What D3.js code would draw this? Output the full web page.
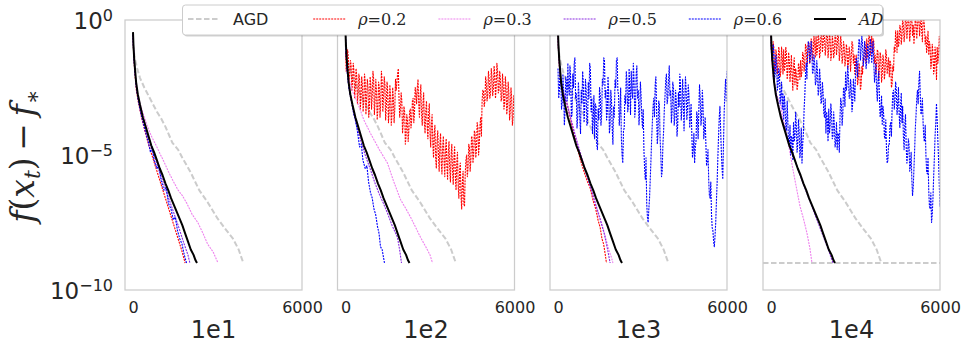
<!DOCTYPE html>
<html><head><meta charset="utf-8">
<script src="https://cdn.jsdelivr.net/npm/d3@7"></script>
<style>body{margin:0;background:#fff;} svg{display:block;}</style>
</head><body><svg id="c" width="966" height="349"></svg>
<script>
// ---------------- DATA (exponents of f(x_t)-f_*, i.e. log10 values) ----------------
const panels = ["1e1", "1e2", "1e3", "1e4"];
const legendLabels = ["AGD", "0.2", "0.3", "0.5", "0.6", "AD"];
const yTicks = [1, 1e-5, 1e-10];
const yTickExponents = ["0", "\u22125", "\u221210"];
const xTicks = [0, 6000];
const floorExponent = -9;     // dashed reference level drawn in panel 1e4
const noisyStep = 50;         // iteration spacing of the noisy (non-converging) series; *_mid arrays sit half a step later

// [iteration, log10 value]
const agd = [[0,-0.9],[60,-1.4],[150,-1.8],[250,-2.15],[400,-2.5],[600,-2.9],[850,-3.4],[1000,-3.65],[1150,-3.95],[1400,-4.55],[1600,-4.8],[1750,-5.1],[2050,-5.65],[2350,-6.3],[2650,-6.75],[3000,-7.35],[3250,-7.7],[3550,-8.1],[3750,-8.5],[3900,-8.95]];
const ad = [[0,-0.45],[15,-0.9],[40,-1.4],[70,-1.8],[110,-2.3],[170,-2.75],[250,-3.15],[350,-3.6],[450,-3.95],[550,-4.3],[650,-4.65],[750,-4.9],[850,-5.2],[950,-5.5],[1050,-5.75],[1150,-6.05],[1250,-6.3],[1350,-6.6],[1450,-6.85],[1550,-7.1],[1650,-7.35],[1750,-7.6],[1850,-7.9],[1950,-8.2],[2050,-8.5],[2150,-8.7],[2220,-8.9],[2272,-9.0]];

const red_1e1 = [[0,-0.55],[20,-1.2],[60,-1.9],[120,-2.6],[200,-3.1],[300,-3.6],[420,-4.1],[550,-4.6],[700,-5.1],[850,-5.6],[1000,-6.1],[1150,-6.6],[1300,-7.1],[1450,-7.6],[1600,-8.1],[1720,-8.5],[1800,-8.8],[1850,-9.0]];
const pink_1e1 = [[0,-0.6],[30,-1.3],[80,-2.0],[160,-2.7],[250,-3.1],[355,-3.45],[500,-3.9],[650,-4.3],[800,-4.6],[958,-4.95],[1100,-5.25],[1250,-5.6],[1420,-5.95],[1600,-6.3],[1750,-6.5],[1917,-6.8],[2100,-7.2],[2300,-7.5],[2485,-7.9],[2650,-8.3],[2850,-8.6],[3018,-9.0]];
const purple_1e1 = [[0,-0.55],[20,-1.1],[60,-1.8],[120,-2.45],[200,-3.0],[300,-3.5],[420,-3.95],[550,-4.4],[700,-4.9],[850,-5.35],[1000,-5.8],[1200,-6.4],[1400,-7.0],[1600,-7.6],[1800,-8.25],[1950,-8.7],[2020,-9.0]];
const blue_1e1 = [[0,-0.55],[20,-1.1],[60,-1.8],[120,-2.5],[200,-3.05],[300,-3.55],[420,-4.05],[550,-4.55],[620,-4.9],[680,-4.7],[750,-5.2],[850,-5.5],[920,-5.4],[1000,-5.95],[1100,-6.3],[1180,-6.2],[1260,-6.8],[1350,-7.0],[1430,-7.4],[1500,-7.3],[1580,-7.8],[1660,-8.1],[1740,-8.3],[1820,-8.7],[1900,-9.0]];

const red_1e2 = [-1.2,-1.6,-1.4,-2.0,-1.7,-2.3,-1.9,-2.5,-2.1,-2.7,
 -2.2,-2.9,-2.4,-3.0,-2.3,-2.9,-2.5,-3.2,-2.4,-2.8,
 -2.2,-3.0,-2.6,-3.3,-2.5,-3.1,-2.3,-2.9,-2.4,-3.2,
 -2.7,-3.4,-2.8,-3.5,-2.9,-3.3,-2.6,-2.0,-2.9,-3.3,
 -3.0,-3.8,-3.4,-4.3,-3.7,-4.1,-3.3,-3.7,-2.9,-3.4,
 -2.7,-2.5,-3.1,-2.8,-3.5,-3.1,-3.8,-3.4,-3.9,-3.5,
 -4.2,-3.8,-4.6,-4.2,-5.1,-4.5,-5.0,-4.6,-5.3,-4.7,
 -5.2,-4.8,-5.4,-4.9,-5.5,-5.0,-5.6,-5.1,-5.8,-5.3,
 -6.1,-5.6,-6.5,-6.0,-6.8,-5.7,-5.0,-5.5,-4.7,-5.2,
 -4.4,-5.0,-4.2,-4.8,-4.0,-4.6,-3.6,-3.0,-2.6,-3.0,
 -2.3,-2.8,-2.2,-2.7,-2.1,-2.6,-2.0,-2.5,-1.9,-2.6,
 -2.2,-2.9,-2.4,-3.1,-2.5,-3.2,-2.7,-3.4,-2.9,-3.6,
 -3.2];
const red_1e2_mid = [-1.9,-1.1,-2.4,-1.5,-2.6,-1.6,-2.9,-1.8,-3.1,-2.0,
 -3.3,-2.1,-3.4,-2.0,-3.5,-2.2,-3.6,-2.1,-3.3,-1.9,
 -3.5,-2.2,-3.7,-2.3,-3.6,-1.9,-3.4,-2.1,-3.7,-2.3,
 -3.8,-2.4,-3.9,-2.5,-3.8,-2.2,-2.3,-1.8,-3.6,-2.7,
 -4.2,-3.2,-4.6,-3.5,-4.5,-3.4,-4.0,-3.0,-3.8,-2.5,
 -3.1,-2.2,-3.6,-2.4,-3.9,-2.7,-4.2,-3.0,-4.4,-3.1,
 -4.7,-3.5,-5.1,-3.9,-5.5,-4.1,-5.6,-4.2,-5.7,-4.3,
 -5.8,-4.4,-5.9,-4.5,-6.0,-4.6,-6.1,-4.7,-6.3,-4.9,
 -6.6,-5.3,-7.0,-5.6,-6.9,-5.2,-5.8,-4.6,-5.6,-4.3,
 -5.3,-4.1,-5.1,-3.8,-5.0,-3.9,-4.3,-2.6,-3.2,-2.1,
 -3.0,-1.9,-2.9,-1.8,-2.8,-1.7,-2.9,-1.6,-2.7,-1.9,
 -3.0,-2.0,-3.3,-2.1,-3.5,-2.3,-3.7,-2.5,-3.9,-2.8,
 -3.8];
const pink_1e2 = [[0,-0.7],[30,-1.4],[100,-2.1],[250,-2.65],[426,-3.05],[650,-3.7],[888,-4.2],[1200,-4.8],[1490,-5.3],[1700,-5.95],[1952,-6.65],[2150,-7.0],[2308,-7.3],[2500,-7.7],[2663,-8.05],[2850,-8.4],[3000,-8.7],[3089,-9.0]];
const purple_1e2 = [[0,-0.6],[20,-1.2],[60,-1.9],[120,-2.5],[200,-3.0],[300,-3.5],[420,-4.0],[550,-4.5],[700,-5.0],[888,-5.55],[1050,-6.05],[1200,-6.45],[1350,-6.8],[1490,-7.15],[1650,-7.6],[1780,-7.9],[1846,-8.05],[1920,-8.5],[1988,-9.0]];
const blue_1e2 = [[0,-0.6],[20,-1.2],[60,-1.9],[120,-2.5],[200,-2.9],[280,-3.4],[350,-3.7],[420,-4.1],[500,-4.7],[560,-4.6],[620,-5.2],[700,-5.5],[760,-5.4],[820,-6.0],[888,-6.4],[950,-6.6],[1010,-7.0],[1070,-7.2],[1136,-7.65],[1190,-7.9],[1243,-8.4],[1300,-8.5],[1384,-9.0]];

const red_1e3 = [[0,-0.55],[20,-1.2],[60,-1.9],[120,-2.4],[200,-2.7],[320,-3.1],[450,-3.7],[560,-4.2],[675,-4.7],[800,-5.2],[950,-5.7],[1050,-6.0],[1136,-6.2],[1250,-6.7],[1340,-7.0],[1420,-7.4],[1500,-7.7],[1560,-8.1],[1620,-8.3],[1680,-8.7],[1720,-9.0]];
const pink_1e3 = [[0,-0.55],[20,-1.2],[60,-1.85],[120,-2.35],[200,-2.7],[320,-3.05],[450,-3.6],[600,-4.2],[750,-4.75],[900,-5.3],[1050,-5.8],[1200,-6.3],[1350,-6.85],[1500,-7.35],[1650,-7.9],[1800,-8.5],[1900,-8.8],[1950,-9.0]];
const purple_1e3 = [[0,-0.55],[20,-1.2],[60,-1.85],[120,-2.4],[200,-2.75],[320,-3.1],[450,-3.65],[600,-4.25],[750,-4.8],[900,-5.35],[1050,-5.85],[1200,-6.35],[1350,-6.9],[1500,-7.4],[1650,-7.95],[1760,-8.5],[1850,-9.0]];
const blue_1e3 = [-1.8,-2.6,-2.2,-3.1,-2.6,-3.4,-2.3,-1.6,-2.8,-2.2,
 -3.5,-2.5,-1.4,-2.7,-3.6,-2.9,-4.2,-3.1,-2.4,-3.3,
 -2.6,-3.8,-2.9,-1.8,-2.9,-3.6,-4.4,-3.2,-4.8,-3.7,
 -2.8,-3.5,-2.4,-1.5,-2.6,-3.4,-2.7,-3.9,-3.0,-4.6,
 -3.6,-2.5,-1.4,-2.8,-3.4,-4.4,-5.3,-4.0,-3.1,-2.3,
 -3.2,-2.6,-1.9,-2.9,-2.2,-3.3,-1.7,-2.6,-3.4,-2.8,
 -4.0,-4.8,-5.9,-6.8,-7.5,-6.6,-5.2,-3.8,-2.9,-2.4,
 -3.3,-4.2,-3.1,-5.0,-5.6,-4.1,-2.8,-2.0,-2.9,-1.7,
 -2.6,-3.4,-2.5,-3.6,-3.0,-3.9,-3.2,-2.4,-3.3,-2.9,
 -3.0,-2.6,-3.2,-2.8,-3.6,-4.2,-4.8,-5.3,-4.5,-3.6,
 -3.3,-2.9,-3.6,-3.2,-4.1,-4.6,-5.2,-5.9,-6.6,-7.2,
 -7.8,-8.4,-7.5,-6.0,-4.3,-3.2,-4.9,-5.9,-3.4,-2.2,
 -1.9];
const blue_1e3_mid = [-2.9,-1.7,-3.3,-2.0,-3.9,-2.1,-3.0,-2.5,-1.7,-3.6,
 -2.0,-1.6,-2.9,-4.0,-2.3,-3.7,-2.6,-1.9,-3.8,-2.2,
 -3.9,-2.3,-1.6,-3.4,-4.2,-2.8,-3.1,-4.6,-3.3,-2.5,
 -3.9,-2.2,-1.4,-2.9,-3.7,-2.1,-4.2,-2.6,-4.0,-3.2,
 -2.2,-1.5,-2.6,-3.9,-2.5,-5.0,-4.1,-2.8,-1.9,-3.4,
 -1.8,-3.5,-2.6,-1.6,-3.6,-2.0,-2.9,-3.9,-2.3,-3.6,
 -3.3,-5.5,-5.1,-7.3,-7.0,-5.9,-4.4,-3.2,-3.6,-2.1,
 -4.6,-3.0,-4.4,-5.8,-4.6,-3.3,-2.2,-3.1,-2.2,-2.8,
 -3.8,-2.3,-3.9,-2.6,-4.3,-2.7,-2.0,-3.7,-2.2,-4.1,
 -2.1,-3.7,-2.4,-4.0,-3.1,-5.1,-4.2,-4.7,-3.4,-4.4,
 -2.4,-3.9,-2.6,-4.4,-3.6,-5.4,-4.8,-6.5,-6.0,-7.7,
 -8.2,-8.0,-6.7,-5.1,-3.6,-4.1,-5.5,-4.6,-2.7,-3.0,
 -2.4];

const red_1e4 = [-0.6,-1.3,-1.0,-1.8,-1.3,
 -1.7,-1.2,-1.9,-1.4,-1.1,-1.7,-1.3,-1.9,-1.5,
 -1.8,-2.1,-1.7,-2.4,-2.0,-2.4,-1.8,
 -1.5,-1.9,-1.3,-1.6,-1.0,-1.4,-0.9,-1.3,-0.8,-1.2,-0.9,
 -0.6,-1.1,-0.7,-1.2,-0.5,-0.9,-0.6,-1.0,-0.5,-1.1,-0.7,-1.3,-0.8,-1.2,-0.6,-1.0,-0.7,-1.2,-0.9,-1.4,-1.0,
 -1.5,-1.1,-1.6,-1.2,-1.4,-0.9,-1.3,-1.6,-1.9,
 -2.2,-1.8,-2.4,-2.0,-1.5,-1.0,
 -0.7,-1.0,-0.6,-0.9,-1.2,-0.8,
 -1.3,-1.6,-1.2,-1.8,-1.4,-2.0,-1.5,-1.9,-1.3,-1.7,-2.1,-1.6,
 -2.4,-1.9,-1.2,-0.7,
 -0.4,-0.8,-0.3,-0.6,-0.2,-0.5,0.0,-0.3,-0.1,-0.4,0.1,-0.2,-0.5,-0.1,-0.3,0.1,-0.2,-0.4,0.0,-0.3,
 -0.6,-0.9,-1.3,-1.0,-1.6,-1.2,-1.8,-1.4,
 -1.0,-1.3,-0.9];
const red_1e4_mid = [-1.5,-0.8,-1.9,-1.1,-2.0,
 -1.0,-2.1,-1.0,-2.0,-1.9,-1.0,-2.2,-1.2,-2.3,
 -1.3,-2.6,-1.4,-1.8,-2.6,-1.6,-2.2,
 -2.1,-1.2,-1.9,-0.9,-1.7,-0.8,-1.6,-0.7,-1.5,-0.6,-1.4,
 -1.3,-0.5,-1.4,-0.4,-1.2,-0.3,-1.3,-0.4,-1.4,-0.5,-1.5,-0.6,-1.4,-0.5,-1.3,-0.4,-1.5,-0.6,-1.6,-0.8,-1.7,
 -0.9,-1.8,-1.0,-1.9,-0.8,-1.6,-2.0,-1.3,-2.4,
 -1.6,-2.6,-1.7,-1.4,-0.8,-1.6,
 -1.4,-0.5,-1.3,-0.6,-0.7,-1.6,
 -2.0,-1.1,-2.2,-1.2,-2.3,-1.3,-2.2,-1.1,-2.0,-1.4,-1.5,-2.5,
 -1.7,-1.0,-0.4,-1.2,
 -1.0,-0.2,-0.9,0.1,-0.8,0.2,-0.7,0.3,-0.8,0.2,-0.6,-0.9,0.2,-0.7,0.3,-0.6,0.2,-0.8,0.1,-0.9,
 -1.2,-0.4,-0.8,-1.8,-0.9,-2.0,-1.0,-2.2,
 -1.6,-0.6,-1.5];
const pink_1e4 = [[0,-0.6],[20,-1.3],[71,-2.1],[150,-2.6],[230,-2.85],[320,-3.05],[450,-3.75],[568,-4.3],[680,-4.95],[781,-5.55],[900,-6.2],[1030,-6.9],[1150,-7.35],[1278,-7.9],[1380,-8.45],[1455,-9.0]];
const purple_1e4 = [[0,-0.5],[20,-1.0],[60,-1.7],[120,-2.3],[200,-2.8],[300,-3.3],[450,-3.9],[650,-4.6],[850,-5.2],[1050,-5.8],[1250,-6.35],[1450,-6.9],[1650,-7.45],[1850,-8.0],[2050,-8.55],[2200,-9.0]];
const blue_1e4 = [-0.8,
 -1.5,-1.2,-2.0,-1.7, -2.4,-2.0,-2.8,-3.3, -3.7,-3.2,-4.1,-3.8, -4.6,-5.0,-4.4,
 -3.8,-4.3,-3.9,-4.6, -4.1,-4.8,-5.3, -4.2,-2.8,-1.6,-1.2, -0.9,-1.4,-1.2,-1.9,
 -1.6,-2.3,-1.9,-2.6,-2.2, -3.0,-2.7,-3.6,-4.2,-3.7, -3.3,-3.9,-3.5,-4.3,-3.9,
 -4.5,-4.8,-4.2,-3.6,-3.1, -3.5,-2.6,-1.9,-2.4,-2.1, -2.9,-2.5,-3.1,-2.6,-2.0,
 -1.6,-1.2,-0.8,-1.1, -0.9,-1.4,-1.1,-1.5,-1.0, -1.3,-0.9,-1.2,-1.6,
 -2.0,-2.6,-2.2,-2.9,-3.4, -3.9,-3.5,-4.4,-4.8,-5.2, -4.6,-3.8,-3.3,-2.6,-3.0,
 -2.6,-3.1,-3.5,-3.2, -3.8,-4.3,-3.9,-4.7,-5.0, -4.6,-5.4,-5.9,-6.2,
 -4.8,-3.5,-2.6,-2.3,-2.8, -3.4,-3.8,-4.5,-5.0,-5.7, -6.3,-7.0,-7.5,-6.6,-5.1,
 -3.8,-3.7,-5.2,-6.9];
const blue_1e4_mid = [-1.3,
 -0.9,-2.2,-1.3,-2.6, -1.8,-3.1,-2.3,-2.7, -2.8,-4.0,-3.0,-4.6, -3.9,-4.3,-5.2,
 -4.5,-3.4,-4.9,-3.7, -5.1,-4.0,-4.6, -3.3,-2.0,-2.2,-0.8, -1.6,-0.8,-2.0,-1.3,
 -2.4,-1.5,-2.8,-1.8,-3.1, -2.3,-3.5,-2.9,-3.4,-4.5, -4.2,-3.1,-4.4,-3.4,-4.7,
 -3.8,-4.2,-4.9,-2.9,-3.9, -2.5,-3.2,-2.6,-1.7,-2.9, -2.2,-3.4,-2.2,-3.0,-1.4,
 -2.1,-0.7,-1.5,-0.6, -1.7,-0.8,-1.8,-0.9,-1.6, -0.7,-1.6,-0.8,-2.3,
 -1.6,-3.0,-1.9,-3.6,-2.8, -3.2,-4.3,-3.7,-5.3,-4.6, -3.9,-4.3,-2.7,-3.3,-2.3,
 -3.5,-2.5,-4.0,-2.7, -3.2,-4.8,-3.5,-5.3,-4.4, -5.6,-4.9,-6.5,-5.5,
 -4.0,-2.9,-3.1,-1.9,-3.5, -2.9,-4.4,-3.9,-5.6,-5.1, -6.9,-6.4,-7.2,-5.8,-4.3,
 -3.1,-4.5,-6.1,-6.5];

// ---------------- LAYOUT / STYLE ----------------
// interleave each noisy series with its half-step samples
const fromNoisy = (a, b) => a.flatMap((e, i) => i < b.length
  ? [[i * noisyStep, e], [i * noisyStep + noisyStep / 2, b[i]]] : [[i * noisyStep, e]]);
const panelSeries = {
  "1e1": [agd, red_1e1, pink_1e1, purple_1e1, blue_1e1, ad],
  "1e2": [agd, fromNoisy(red_1e2, red_1e2_mid), pink_1e2, purple_1e2, blue_1e2, ad],
  "1e3": [agd, red_1e3, pink_1e3, purple_1e3, fromNoisy(blue_1e3, blue_1e3_mid), ad],
  "1e4": [agd, fromNoisy(red_1e4, red_1e4_mid), pink_1e4, purple_1e4, fromNoisy(blue_1e4, blue_1e4_mid), ad]
};
const styles = [
  {color: "#cccccc", width: 2, dash: "5.5,2.5"},
  {color: "#ff0000", width: 1.1, dash: "2,1"},
  {color: "#ee82ee", width: 1.1, dash: "2,1"},
  {color: "#8a2be2", width: 1.1, dash: "2,1"},
  {color: "#0000ff", width: 1.1, dash: "2,1"},
  {color: "#000000", width: 2, dash: null}
];
const TXT = "#262626";
const TOP = 20, BOT = 290, PW = 177;
const panelLeft = [125, 337.5, 550, 763];
const xLim = [-284, 6000];

const svg = d3.select("#c");
const y = d3.scaleLog().domain([1e-10, 1]).range([BOT, TOP]);

panels.forEach((p, pi) => {
  const L = panelLeft[pi];
  const x = d3.scaleLinear().domain(xLim).range([L, L + PW]);
  const g = svg.append("g");
  const cid = "clip" + pi;
  svg.append("clipPath").attr("id", cid).append("rect")
    .attr("x", L).attr("y", TOP).attr("width", PW).attr("height", BOT - TOP);
  const lg = g.append("g").attr("clip-path", `url(#${cid})`);
  const line = d3.line().x(d => x(d[0])).y(d => y(Math.pow(10, d[1])));

  if (p === "1e4") {
    const fy = y(Math.pow(10, floorExponent));
    lg.append("path")
      .attr("d", d3.line()([[x(xLim[0]), fy], [x(xLim[1]), fy]]))
      .attr("fill", "none").attr("stroke", styles[0].color).attr("stroke-width", 2).attr("stroke-dasharray", "5.5,2.5");
  }
  panelSeries[p].forEach((s, si) => {
    const st = styles[si];
    lg.append("path").attr("d", line(s)).attr("fill", "none")
      .attr("stroke", st.color).attr("stroke-width", st.width)
      .attr("stroke-dasharray", st.dash).attr("stroke-linejoin", "round");
  });

  g.append("rect").attr("x", L).attr("y", TOP).attr("width", PW).attr("height", BOT - TOP)
    .attr("fill", "none").attr("stroke", "#cccccc").attr("stroke-width", 1.25);

  const xa = g.append("g").attr("transform", `translate(0,${BOT})`)
    .call(d3.axisBottom(x).tickValues(xTicks).tickSize(0).tickPadding(11.5).tickFormat(d3.format("d")));
  xa.select(".domain").remove();
  xa.selectAll("text").attr("font-family", "DejaVu Sans").attr("font-size", 16).attr("fill", TXT);

  g.append("text").attr("x", L + PW / 2).attr("y", 338).attr("text-anchor", "middle")
    .attr("font-family", "DejaVu Sans").attr("font-size", 24).attr("fill", TXT).text(p);

  if (pi === 0) {
    const ya = g.append("g").attr("transform", `translate(${L},0)`)
      .call(d3.axisLeft(y).tickValues(yTicks).tickSize(0).tickPadding(12));
    ya.select(".domain").remove();
    ya.selectAll("text").each(function(d) {
      const t = d3.select(this);
      t.text(null).attr("dy", null).attr("y", 8.8).attr("text-anchor", "end")
        .attr("font-family", "DejaVu Sans").attr("font-size", 23).attr("fill", TXT);
      t.append("tspan").text("10");
      t.append("tspan").attr("dy", -8.5).attr("font-size", 16).text(yTickExponents[yTicks.indexOf(d)]);
    });
  }
});

// y label
const yl = svg.append("text").attr("transform", "translate(34,156) rotate(-90)")
  .attr("text-anchor", "middle").attr("font-family", "DejaVu Serif").attr("font-size", 33).attr("fill", TXT);
yl.append("tspan").attr("font-style", "italic").text("f");
yl.append("tspan").text("(");
yl.append("tspan").attr("font-style", "italic").text("x");
yl.append("tspan").attr("font-style", "italic").attr("font-size", 22).attr("dy", 6).text("t");
yl.append("tspan").attr("dy", -6).text(")\u2009\u2212\u2009");
yl.append("tspan").attr("font-style", "italic").text("f");
yl.append("tspan").attr("font-size", 22).attr("dy", 6).text("\u2217");

// legend
const LG = {x: 182.5, y: 5, w: 700, h: 30};
svg.append("rect").attr("x", LG.x + 1.5).attr("y", LG.y + 1.5).attr("width", LG.w).attr("height", LG.h)
  .attr("rx", 3).attr("fill", "#000").attr("opacity", 0.18);
svg.append("rect").attr("x", LG.x).attr("y", LG.y).attr("width", LG.w).attr("height", LG.h)
  .attr("rx", 3).attr("fill", "#fff").attr("stroke", "#cccccc").attr("stroke-width", 1);
legendLabels.forEach((lab, i) => {
  const x0 = 188 + i * 125.2;
  const st = styles[i];
  svg.append("line").attr("x1", x0).attr("x2", x0 + 32).attr("y1", 19).attr("y2", 19)
    .attr("stroke", st.color).attr("stroke-width", st.width).attr("stroke-dasharray", st.dash);
  const t = svg.append("text").attr("x", x0 + 45).attr("y", 25).attr("font-size", 16).attr("fill", TXT);
  if (i === 0) {
    t.attr("font-family", "DejaVu Sans").text(lab);
  } else if (i === legendLabels.length - 1) {
    t.attr("font-family", "DejaVu Serif").attr("font-style", "italic").text(lab);
  } else {
    t.attr("font-family", "DejaVu Serif");
    t.append("tspan").attr("font-style", "italic").text("\u03C1");
    t.append("tspan").text("=" + lab);
  }
});
</script></body></html>
